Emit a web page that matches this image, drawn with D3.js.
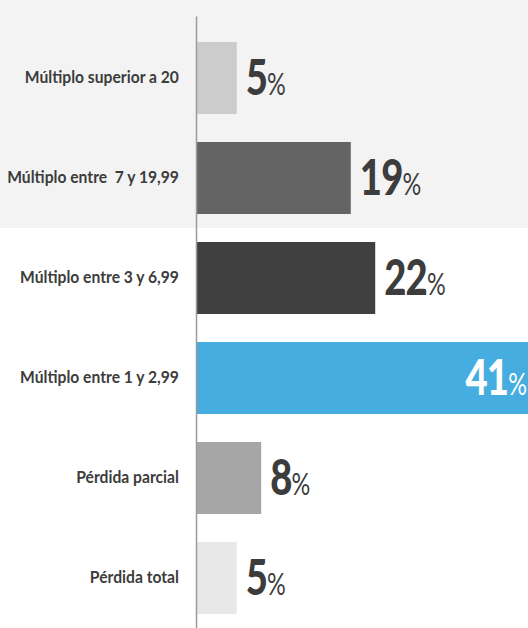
<!DOCTYPE html>
<html>
<head>
<meta charset="utf-8">
<script src="https://cdn.jsdelivr.net/npm/d3@7"></script>
<style>
  html, body { margin: 0; padding: 0; background: #fff; }
  svg { display: block; }
</style>
</head>
<body>
<div id="chart"></div>
<script>
const categories = [
  "Múltiplo superior a 20",
  "Múltiplo entre  7 y 19,99",
  "Múltiplo entre 3 y 6,99",
  "Múltiplo entre 1 y 2,99",
  "Pérdida parcial",
  "Pérdida total"
];
const values = [5, 19, 22, 41, 8, 5];
const barColors = ["#cccccc", "#646464", "#404040", "#45ade0", "#a6a6a6", "#e8e8e8"];
const shadedRows = 2;

const width = 528, height = 628;
const axisX = 196;

const svg = d3.select("#chart").append("svg")
  .attr("width", width)
  .attr("height", height);

const data = categories.map((c, i) => ({ category: c, value: values[i], color: barColors[i] }));

const y = d3.scaleBand()
  .domain(categories)
  .range([16, 628])
  .paddingInner(0.28)
  .paddingOuter(0.2)
  .align(0.65);

const x = d3.scaleLinear()
  .domain([0, 41])
  .range([axisX, 530]);

// shaded band behind the top rows
const gap = y.step() - y.bandwidth();
svg.append("rect")
  .attr("x", 0).attr("y", 0)
  .attr("width", width)
  .attr("height", y(categories[shadedRows - 1]) + y.bandwidth() + gap / 2)
  .attr("fill", "#f3f3f3");

// bars
svg.selectAll("rect.bar")
  .data(data)
  .join("rect")
  .attr("class", "bar")
  .attr("x", x(0))
  .attr("y", d => y(d.category))
  .attr("width", d => x(d.value) - x(0))
  .attr("height", y.bandwidth())
  .attr("fill", d => d.color);

// axis with category labels
const axis = svg.append("g")
  .attr("transform", `translate(${axisX},0)`)
  .call(d3.axisLeft(y).tickSize(0).tickSizeOuter(0).tickPadding(18));
axis.select(".domain").attr("stroke", "#9a9a9a").attr("stroke-width", 1.5);
axis.selectAll("text")
  .attr("fill", "#3c3c3c")
  .attr("transform", "scale(0.95,1)")
  .style("white-space", "pre")
  .style("font-family", "Lato, sans-serif")
  .style("font-weight", 700)
  .style("font-size", "16.5px")
  .attr("dy", "0.3em");

// value labels
const maxVal = d3.max(values);
const labels = svg.selectAll("g.val")
  .data(data)
  .join("g")
  .attr("class", "val")
  .attr("transform", d => {
    const cy = y(d.category) + y.bandwidth() / 2 + 17;
    if (d.value === maxVal) return `translate(${x(d.value) - 3},${cy}) scale(0.78,1)`;
    return `translate(${x(d.value) + 9},${cy}) scale(0.78,1)`;
  });

labels.append("text")
  .attr("text-anchor", d => d.value === maxVal ? "end" : "start")
  .attr("fill", d => d.value === maxVal ? "#ffffff" : "#3c3c3c")
  .style("font-family", "Lato, sans-serif")
  .call(t => t.append("tspan")
    .style("font-weight", 900)
    .style("font-size", "49px")
    .style("letter-spacing", "-1px")
    .text(d => d.value))
  .call(t => t.append("tspan")
    .style("font-weight", 400)
    .style("font-size", "30px")
    .text("%"));
</script>
</body>
</html>
